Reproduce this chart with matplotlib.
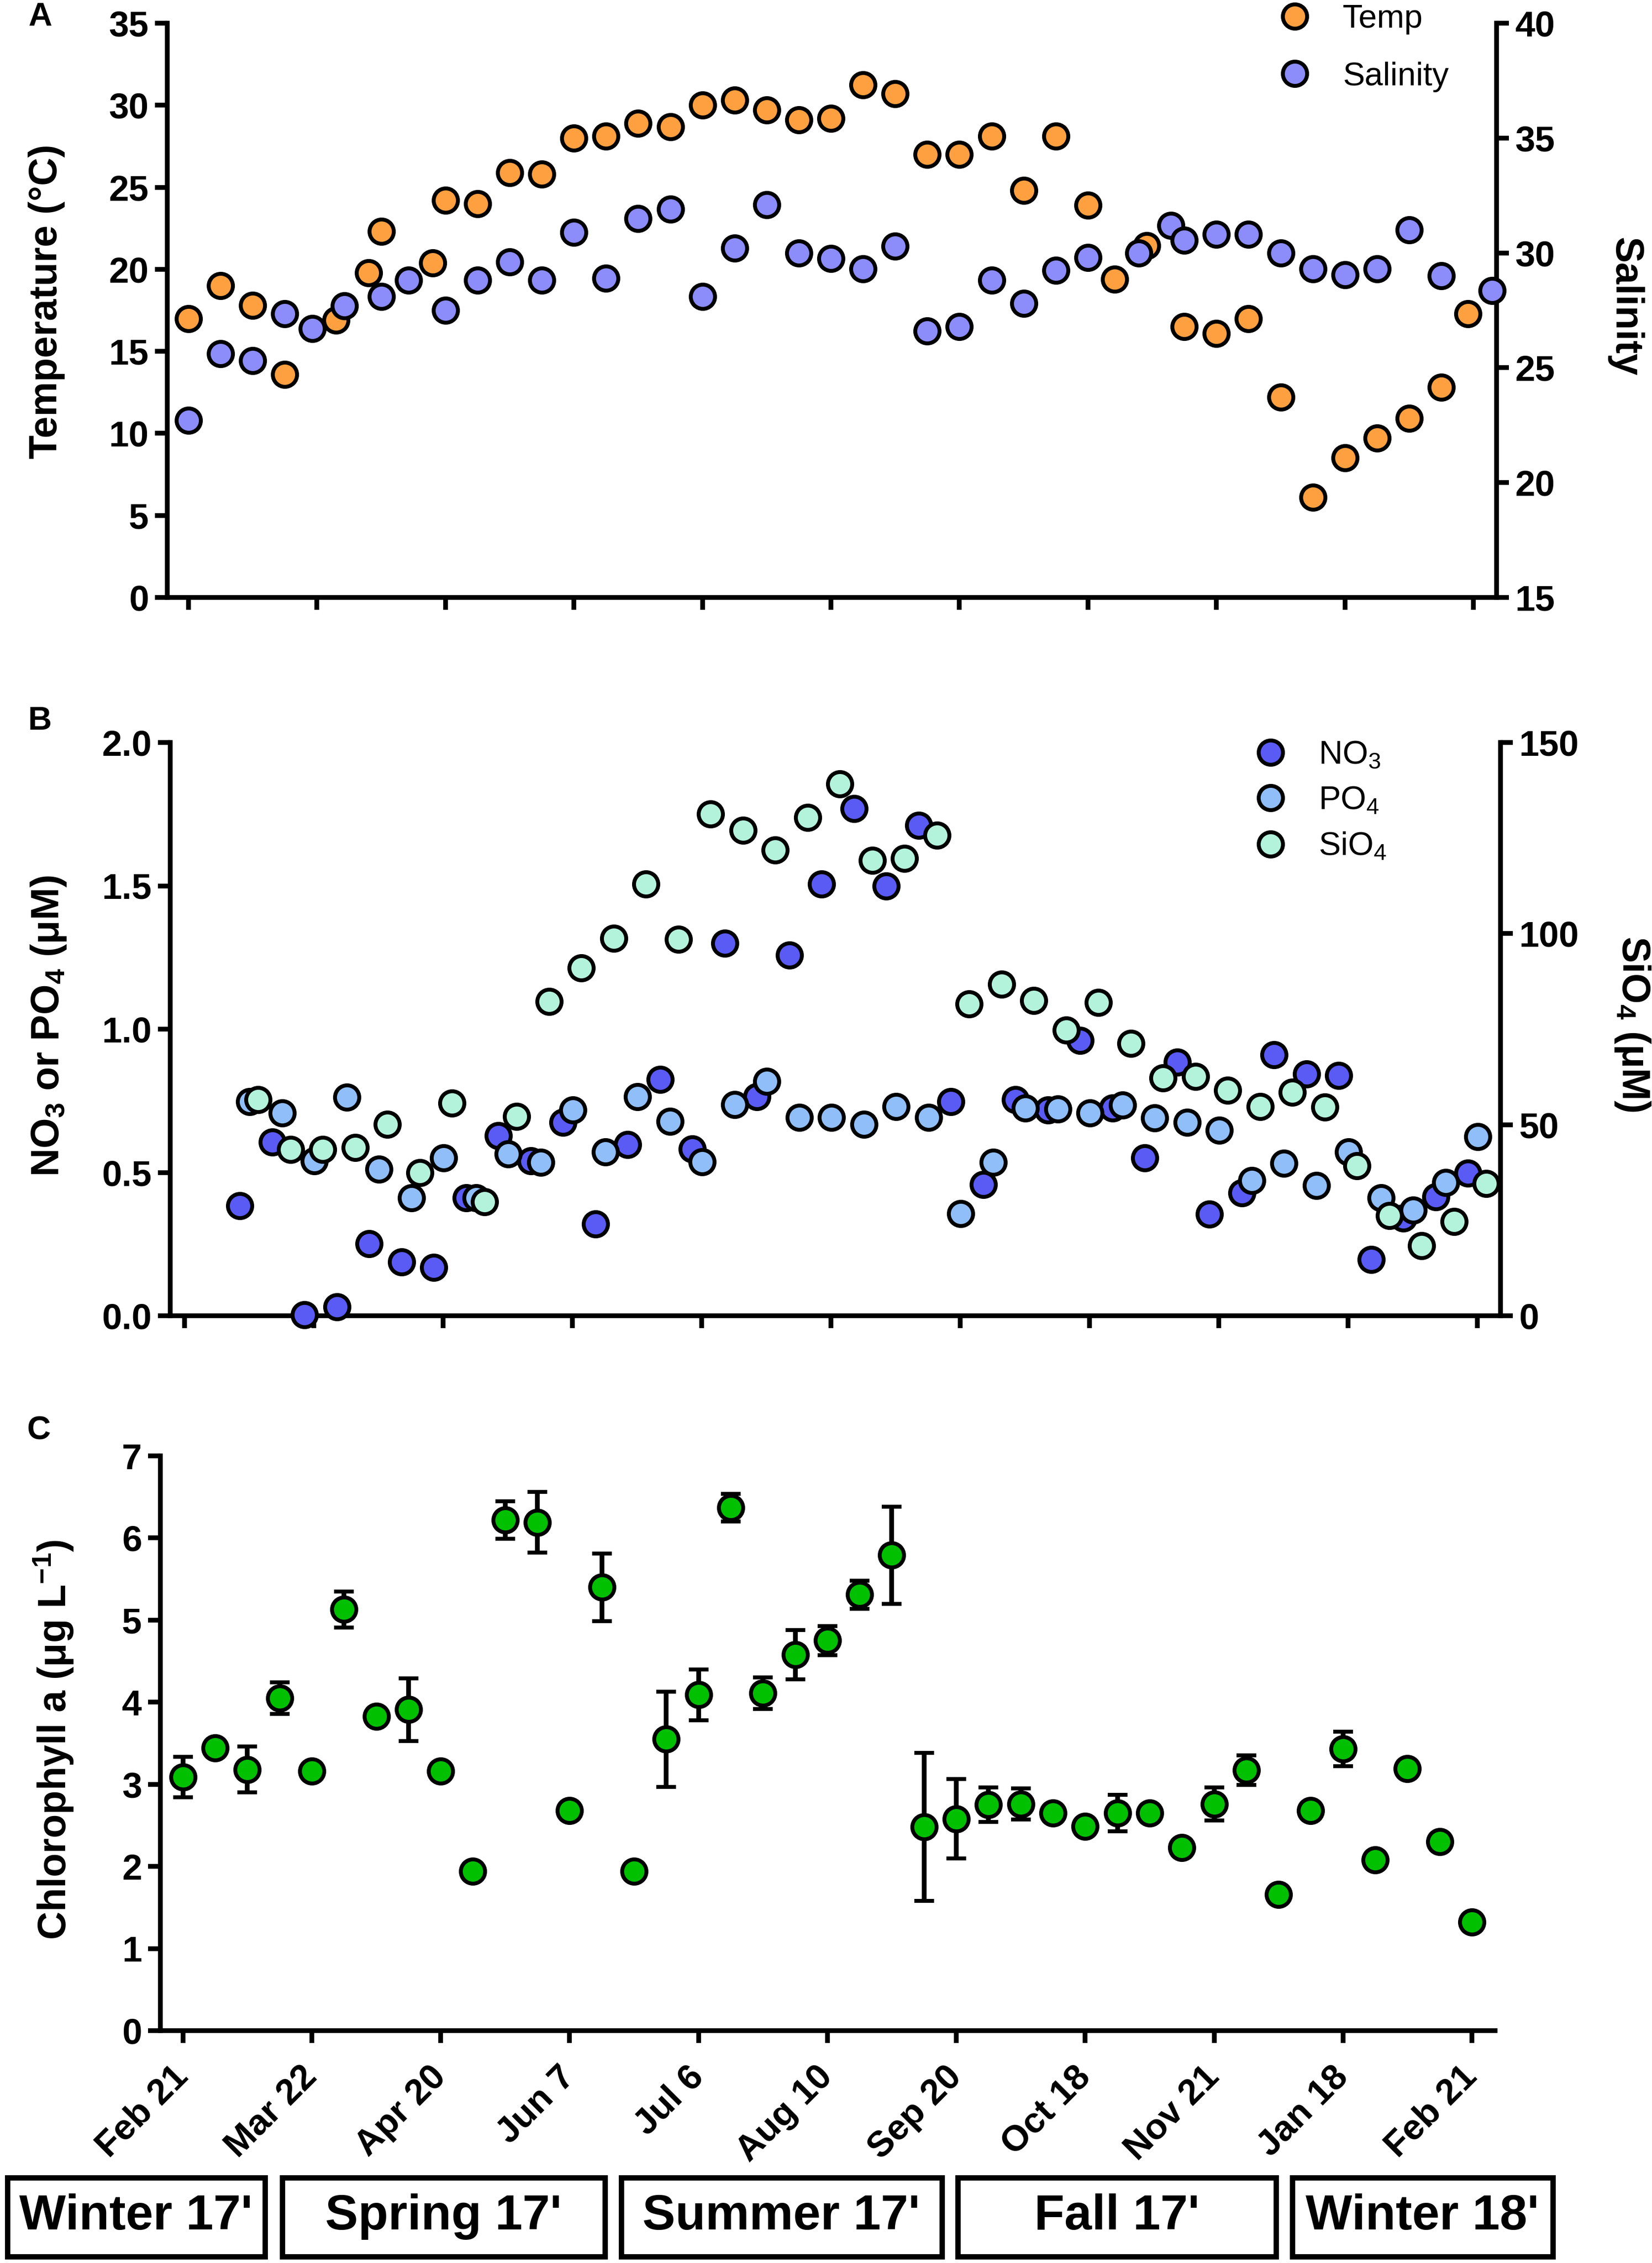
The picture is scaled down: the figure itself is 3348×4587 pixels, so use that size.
import numpy as np
import matplotlib
matplotlib.use("Agg")
import matplotlib.pyplot as plt
from matplotlib.patches import Rectangle

plt.rcParams['font.family'] = ['Liberation Sans', 'DejaVu Sans']
plt.rcParams['mathtext.default'] = 'regular'

# ---------------- data ----------------
tick_pos = [0, 4, 8, 12, 16, 20, 24, 28, 32, 36, 40]
tick_labels = ["Feb 21", "Mar 22", "Apr 20", "Jun 7", "Jul 6", "Aug 10",
               "Sep 20", "Oct 18", "Nov 21", "Jan 18", "Feb 21"]

# panel A
temp_x = [0, 1, 2, 3, 4.6, 5.6, 6, 7.6, 8, 9, 10, 11, 12, 13, 14, 15, 16, 17, 18, 19, 20,
          21, 22, 23, 24, 25, 26, 27, 28, 28.83, 29.83, 31, 32, 33, 34, 35, 36, 37, 38, 39, 39.83]
temp = [17.0, 19.0, 17.8, 13.6, 16.9, 19.8, 22.3, 20.4, 24.2, 24.0, 25.9, 25.8, 28.0, 28.1,
        28.9, 28.7, 30.0, 30.3, 29.7, 29.1, 29.2, 31.25, 30.7, 27.0, 27.0, 28.1, 24.8, 28.1,
        23.9, 19.4, 21.45, 16.5, 16.1, 17.0, 12.2, 6.1, 8.5, 9.7, 10.9, 12.8, 17.3]
sal_x = [0, 1, 2, 3, 3.85, 4.85, 6, 6.85, 8, 9, 10, 11, 12, 13, 14, 15, 16, 17, 18, 19, 20,
         21, 22, 23, 24, 25, 26, 27, 28, 29.58, 30.58, 31, 32, 33, 34, 35, 36, 37, 38, 39, 40.58]
salinity = [22.7, 25.6, 25.3, 27.35, 26.7, 27.7, 28.1, 28.8, 27.5, 28.8, 29.6, 28.8, 30.9,
            28.9, 31.5, 31.9, 28.1, 30.2, 32.1, 30.0, 29.75, 29.3, 30.3, 26.6, 26.8, 28.8,
            27.8, 29.25, 29.8, 30.0, 31.2, 30.55, 30.8, 30.8, 30.0, 29.3, 29.05, 29.3, 31.0,
            29.0, 28.35]

# panel B (samples 2..40)
nut_sample = list(range(2, 41))
no3 = [0.384, 0.605, 0.004, 0.031, 0.251, 0.187, 0.168, 0.411, 0.628, 0.54, 0.675, 0.320,
       0.597, 0.825, 0.582, 1.299, 0.765, 1.259, 1.506, 1.77, 1.499, 1.71, 0.747, 0.458,
       0.754, 0.718, 0.961, 0.725, 0.551, 0.885, 0.354, 0.428, 0.911, 0.844, 0.839, 0.197,
       0.34, 0.415, 0.497]
po4 = [0.747, 0.707, 0.54, 0.762, 0.511, 0.411, 0.55, 0.411, 0.564, 0.535, 0.718, 0.571,
       0.764, 0.678, 0.537, 0.737, 0.818, 0.692, 0.692, 0.668, 0.729, 0.692, 0.357, 0.535,
       0.725, 0.722, 0.707, 0.735, 0.69, 0.675, 0.647, 0.471, 0.532, 0.454, 0.572, 0.411,
       0.368, 0.464, 0.625]
sio4 = [56.5, 43.5, 43.5, 44.0, 50.1, 37.5, 55.7, 29.8, 52.2, 82.2, 91.0, 98.8, 113.0, 98.5,
        131.3, 127.0, 121.8, 130.4, 139.2, 119.2, 119.7, 125.7, 81.6, 86.8, 82.5, 74.7, 82.0,
        71.2, 62.2, 62.6, 59.0, 54.7, 58.5, 54.6, 39.2, 26.2, 18.3, 24.7, 34.6]

# panel C
chl_sample = list(range(0, 41))
chl = [3.09, 3.44, 3.18, 4.05, 3.16, 5.13, 3.83, 3.91, 3.16, 1.94, 6.22, 6.19, 2.68, 5.40,
       1.94, 3.55, 4.09, 6.37, 4.11, 4.58, 4.75, 5.31, 5.79, 2.48, 2.58, 2.75, 2.76, 2.65,
       2.49, 2.65, 2.65, 2.23, 2.76, 3.17, 1.66, 2.68, 3.43, 2.08, 3.19, 2.30, 1.32]
chl_err = [0.245, 0.08, 0.28, 0.19, 0.08, 0.22, 0.08, 0.38, 0.08, 0.08, 0.23, 0.37, 0.08,
           0.41, 0.08, 0.58, 0.31, 0.17, 0.19, 0.30, 0.18, 0.17, 0.59, 0.90, 0.485, 0.21,
           0.19, 0.08, 0.08, 0.22, 0.08, 0.08, 0.20, 0.18, 0.08, 0.08, 0.21, 0.08, 0.08, 0.08,
           0.08]

seasons = ["Winter 17'", "Spring 17'", "Summer 17'", "Fall 17'", "Winter 18'"]

# ---------------- style ----------------
W, H = 3348, 4587
LW = 2.3
MS = 11.8
MEW = 1.9
c_temp, c_sal = '#FFA040', '#8C8CFA'
c_no3, c_po4, c_sio4 = '#5A5AF5', '#90BEF8', '#B3F3DC'
c_chl = '#00C000'


def fx(px):
    return px / W


def fy(py):
    return 1 - py / H


def style_axis(ax, right=False):
    for s in ['top', 'right', 'left', 'bottom']:
        ax.spines[s].set_visible(False)
    ax.spines['bottom'].set_visible(True)
    ax.spines['bottom'].set_linewidth(LW)
    side = 'right' if right else 'left'
    ax.spines[side].set_visible(True)
    ax.spines[side].set_linewidth(LW)
    ax.tick_params(width=LW, length=6, direction='out', labelsize=17.5, pad=3)
    for lab in ax.get_yticklabels():
        lab.set_fontweight('bold')


fig = plt.figure(figsize=(W / 300, H / 300), dpi=300)

# ---------- A ----------
axA = fig.add_axes([fx(339), fy(1211), fx(3033 - 339), (1211 - 47) / H])
axA.plot(temp_x, temp, 'o', color=c_temp, ms=MS, mec='black', mew=MEW, clip_on=False,
         zorder=3, label='Temp')
axA.set_ylim(0, 35)
axA.set_yticks(np.arange(0, 36, 5))
axA.set_xlim(-0.66, 40.72)
axA.set_xticks(tick_pos)
axA.set_xticklabels([])
style_axis(axA)
axA.set_ylabel('Temperature (°C)', fontsize=19, fontweight='bold', va='center')
axA.yaxis.set_label_coords(-0.0906, 0.515)

axA2 = axA.twinx()
axA2.plot(sal_x, salinity, 'o', color=c_sal, ms=MS, mec='black', mew=MEW, clip_on=False,
          zorder=3, label='Salinity')
axA2.set_ylim(15, 40)
axA2.set_yticks(np.arange(15, 41, 5))
style_axis(axA2, right=True)
axA2.spines['bottom'].set_visible(False)
axA2.set_ylabel('Salinity', fontsize=19, fontweight='bold', rotation=270,
                va='center', ha='center')
axA2.yaxis.set_label_coords(1.0965, 0.506)

hA = axA.get_lines() + axA2.get_lines()
axA2.legend(hA, [h.get_label() for h in hA], loc='upper left',
            bbox_to_anchor=(fx(2591), fy(8)), bbox_transform=fig.transFigure,
            frameon=False, fontsize=16, handlelength=1.0, handletextpad=0.95,
            labelspacing=0.82, borderpad=0, borderaxespad=0, numpoints=1)

# ---------- B ----------
axB = fig.add_axes([fx(345), fy(2667), fx(3041 - 345), (2667 - 1505) / H])
xs = np.array(nut_sample)
axB.plot(xs - 0.28, no3, 'o', color=c_no3, ms=MS, mec='black', mew=MEW, clip_on=False,
         zorder=3, label='NO$_3$')
axB.plot(xs + 0.02, po4, 'o', color=c_po4, ms=MS, mec='black', mew=MEW, clip_on=False,
         zorder=3, label='PO$_4$')
axB.set_ylim(0, 2.0)
axB.set_yticks(np.arange(0, 2.01, 0.5))
axB.set_yticklabels(['%.1f' % v for v in np.arange(0, 2.01, 0.5)])
axB.set_xlim(-0.44, 40.72)
axB.set_xticks(tick_pos)
axB.set_xticklabels([])
style_axis(axB)
axB.set_ylabel('NO$_3$ or PO$_4$ (μM)', fontsize=19, fontweight='bold', va='center')
axB.yaxis.set_label_coords(-0.0916, 0.505)

axB2 = axB.twinx()
axB2.plot(xs + 0.28, sio4, 'o', color=c_sio4, ms=MS, mec='black', mew=MEW, clip_on=False,
          zorder=3, label='SiO$_4$')
axB2.set_ylim(0, 150)
axB2.set_yticks([0, 50, 100, 150])
style_axis(axB2, right=True)
axB2.spines['bottom'].set_visible(False)
axB2.set_ylabel('SiO$_4$ (μM)', fontsize=19, fontweight='bold', rotation=270,
                va='center', ha='center')
axB2.yaxis.set_label_coords(1.0994, 0.509)

hB = axB.get_lines() + axB2.get_lines()
axB2.legend(hB, [h.get_label() for h in hB], loc='upper left',
            bbox_to_anchor=(fx(2542), fy(1500)), bbox_transform=fig.transFigure,
            frameon=False, fontsize=16, handlelength=1.0, handletextpad=0.95,
            labelspacing=0.46, borderpad=0, borderaxespad=0, numpoints=1)

# ---------- C ----------
axC = fig.add_axes([fx(325), fy(4116), fx(3030 - 325), (4116 - 2951) / H])
axC.errorbar(chl_sample, chl, yerr=chl_err, fmt='o', color=c_chl, ms=MS, mec='black',
             mew=MEW, ecolor='black', elinewidth=LW, capsize=4.8, capthick=LW,
             clip_on=False, zorder=3)
axC.set_ylim(0, 7)
axC.set_yticks(range(0, 8))
axC.set_xlim(-0.70, 40.72)
axC.set_xticks(tick_pos)
style_axis(axC)
axC.set_xticklabels(tick_labels, rotation=45, ha='right', va='center',
                    rotation_mode='anchor', fontsize=17.5, fontweight='bold')
axC.tick_params(axis='x', pad=14)
axC.set_ylabel('Chlorophyll a (μg L$^{-1}$)', fontsize=19, fontweight='bold', va='center')
axC.yaxis.set_label_coords(-0.0802, 0.506)

# panel letters
for letter, (px, py) in zip('ABC', [(81, 35), (81, 1462), (78, 2900)]):
    fig.text(fx(px), fy(py), letter, fontsize=16, fontweight='bold',
             ha='center', va='center')

# season boxes
box_x = [(9, 542), (566, 1231), (1253, 1914), (1936, 2591), (2613, 3152)]
by0, by1 = 4408, 4579
inset = 5.5
for name, (x0, x1) in zip(seasons, box_x):
    fig.add_artist(Rectangle((fx(x0 + inset), fy(by1 - inset)),
                             fx(x1 - x0 - 2 * inset), (by1 - by0 - 2 * inset) / H,
                             transform=fig.transFigure, fill=False, ec='black', lw=2.6))
    fig.text(fx((x0 + x1) / 2), fy((by0 + by1) / 2), name, fontsize=24,
             fontweight='bold', ha='center', va='center')

fig.savefig('out.png', dpi=300)
